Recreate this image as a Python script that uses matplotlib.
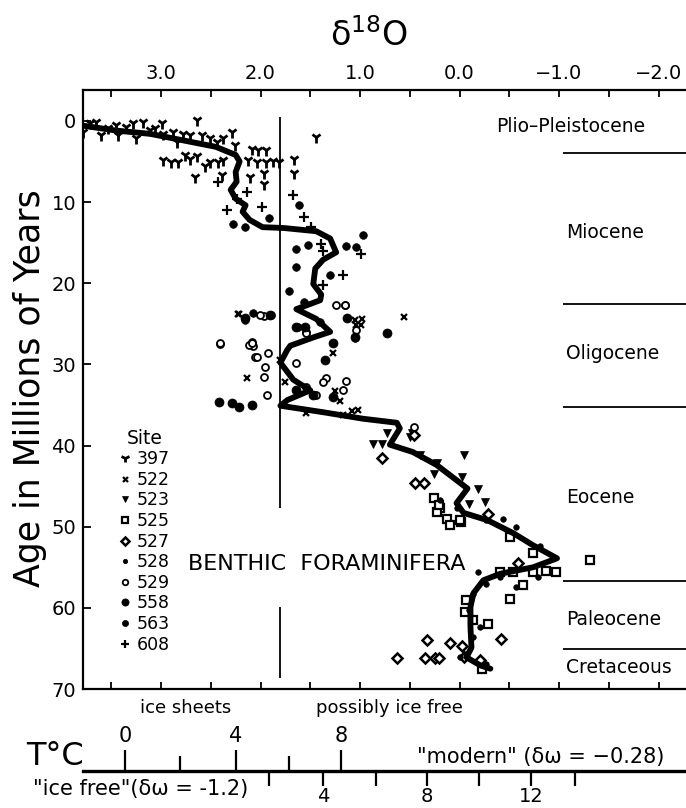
import numpy as np
import matplotlib
matplotlib.use("Agg")
import matplotlib.pyplot as plt

# smoothed benthic curve: (age Myr, d18O)
curve_age = [0.6, 1.2, 1.6, 2.4, 3.2, 4.2, 5.0, 6.3, 7.5, 8.5, 9.6, 10.4, 11.2, 12.2, 13.1,
             13.2, 13.6, 14.5, 16.2, 17.1, 18.2, 20.1, 21.4, 22.1, 23.2, 24.4, 26.0, 26.6,
             27.7, 28.2, 29.8, 31.9, 33.2, 34.4, 35.1, 35.9, 36.7, 37.2, 37.9, 39.9, 40.8,
             42.4, 43.9, 45.3, 47.1, 48.3, 49.2, 50.8, 52.3, 53.9, 55.0, 55.8, 56.6, 58.2,
             59.9, 62.4, 64.9, 66.1, 67.1, 67.5]
curve_d18o = [3.78, 3.45, 3.11, 2.78, 2.45, 2.25, 2.21, 2.25, 2.24, 2.30, 2.25, 2.15, 2.18, 2.11, 1.98,
              1.77, 1.44, 1.30, 1.24, 1.37, 1.45, 1.47, 1.39, 1.40, 1.64, 1.44, 1.30, 1.45,
              1.70, 1.73, 1.80, 1.67, 1.50, 1.73, 1.80, 1.37, 0.97, 0.63, 0.60, 0.70, 0.47,
              0.23, 0.07, -0.08, 0.03, -0.04, -0.28, -0.54, -0.74, -0.98, -0.74, -0.41, -0.24, -0.14,
              -0.11, -0.11, -0.12, -0.07, -0.21, -0.31]

# site samples: columns d18O, age
site397 = np.array([
    [3.78, 1.35], [3.71, 0.32], [3.65, 0.12], [3.60, 1.76], [3.53, 0.94], [3.45, 0.53],
    [3.43, 1.76], [3.35, 0.74], [3.28, 0.32], [3.25, 2.17], [3.18, 0.12], [3.11, 1.15],
    [3.06, 0.94], [2.99, 0.32], [2.98, 1.56], [2.88, 1.35], [2.84, 2.58], [2.78, 1.56],
    [2.71, 1.76], [2.64, -0.09], [2.59, 1.76], [2.51, 2.17], [2.44, 2.58], [2.38, 2.17],
    [2.29, 1.35], [2.26, 2.99], [2.09, 3.49], [2.03, 3.61], [1.94, 3.61], [1.44, 1.97],
    [2.98, 4.85], [2.90, 5.05], [2.83, 5.13], [2.76, 4.23], [2.71, 4.64], [2.64, 4.31],
    [2.56, 5.54], [2.51, 5.05], [2.43, 5.05], [2.38, 4.85], [2.13, 4.85], [2.04, 5.05],
    [1.94, 5.05], [1.87, 4.97], [1.81, 5.05], [1.66, 4.64], [1.66, 6.37], [1.96, 6.37],
    [1.96, 7.72], [2.11, 6.90], [2.66, 6.90], [2.39, 6.70]])
site522 = np.array([
    [2.22, 23.80], [0.56, 24.12], [1.05, 24.54], [1.04, 25.15], [1.27, 28.65], [1.25, 33.25],
    [1.20, 34.48], [1.02, 35.63], [1.08, 35.76], [1.17, 36.25], [1.54, 36.04], [1.75, 32.14],
    [2.14, 31.65], [1.80, 29.47], [2.23, 23.75], [0.98, 24.37], [0.99, 25.11]])
site523 = np.array([
    [0.73, 38.51], [0.48, 38.51], [0.87, 39.83], [0.78, 39.83], [0.40, 41.19], [0.23, 42.21],
    [0.26, 43.45], [-0.04, 41.19], [-0.02, 43.86], [-0.19, 45.30], [-0.26, 46.94], [-0.10, 47.15],
    [0.50, 38.90]])
site525 = np.array([
    [0.26, 46.41], [0.20, 47.64], [0.13, 49.00], [0.10, 49.82], [-0.01, 49.41], [0.23, 48.17],
    [-0.51, 51.26], [-0.74, 53.23], [-1.31, 54.13], [-0.41, 55.57], [-0.54, 55.57], [-0.74, 55.57],
    [-0.87, 55.45], [-0.97, 55.57], [-0.64, 57.22], [-0.51, 58.86], [-0.06, 60.50], [-0.29, 61.94],
    [-0.23, 67.49], [-0.14, 61.53], [-0.07, 59.07], [0.21, 47.35], [0.00, 49.20]])
site527 = np.array([
    [0.78, 41.60], [0.46, 38.70], [0.45, 44.60], [0.36, 44.60], [-0.29, 48.46], [-0.59, 54.46],
    [0.33, 63.92], [0.10, 64.33], [-0.02, 64.74], [0.63, 66.13], [0.35, 66.13], [0.25, 66.13],
    [0.21, 66.13], [-0.42, 63.79], [-0.04, 66.05], [-0.21, 66.46]])
site528 = np.array([
    [0.20, 46.73], [0.03, 47.76], [-0.27, 49.20], [-0.44, 49.00], [-0.57, 50.02], [-0.81, 52.40],
    [-0.79, 56.19], [-0.57, 57.42], [-0.27, 57.01], [-0.14, 58.24], [-0.10, 60.30], [-0.21, 62.35],
    [-0.14, 63.58], [-0.07, 65.64], [-0.27, 66.87], [0.00, 66.05], [-0.19, 55.57], [-0.41, 56.19]])
site529 = np.array([
    [2.41, 27.45], [2.09, 27.25], [2.08, 27.74], [1.24, 22.72], [1.15, 22.72], [1.04, 25.80],
    [1.97, 24.04], [1.89, 23.88], [1.54, 26.00], [2.41, 27.41], [2.12, 27.62], [2.09, 27.41],
    [2.06, 29.06], [1.95, 30.29], [1.97, 31.52], [1.92, 28.65], [1.93, 33.78], [1.64, 29.88],
    [1.54, 26.18], [1.34, 31.73], [1.37, 32.14], [1.14, 32.02], [1.17, 33.17], [0.46, 37.69],
    [1.54, 32.76], [1.44, 33.78], [2.01, 23.92], [1.15, 22.69], [2.04, 29.06]])
site558 = np.array([
    [2.42, 34.60], [2.29, 34.81], [2.22, 35.30], [2.09, 35.00], [2.16, 24.33], [1.64, 25.36],
    [1.55, 25.36], [1.35, 29.47], [1.27, 33.99], [1.05, 26.59], [0.73, 26.18], [1.13, 24.33],
    [1.90, 23.92], [1.27, 27.41], [1.47, 33.78], [1.64, 33.17]])
site563 = np.array([
    [1.61, 10.31], [1.91, 11.96], [2.28, 12.74], [2.16, 13.07], [1.64, 15.74], [1.52, 15.25],
    [1.64, 17.99], [1.30, 19.03], [1.14, 15.41], [1.04, 15.53], [0.97, 14.01], [1.71, 21.00],
    [1.56, 22.31], [2.16, 24.49], [2.08, 23.63], [1.62, 25.40], [1.05, 26.75], [1.40, 24.78]])
site608 = np.array([
    [2.43, 7.52], [2.34, 11.01], [2.14, 8.75], [1.99, 10.60], [1.67, 9.16], [1.56, 11.83],
    [1.49, 13.07], [1.39, 15.12], [1.37, 16.07], [1.17, 19.03], [0.99, 16.35], [1.37, 20.26],
    [2.24, 9.57]])

sites = ["397", "522", "523", "525", "527", "528", "529", "558", "563", "608"]
site_data = [site397, site522, site523, site525, site527, site528, site529, site558, site563, site608]
site_style = [
    dict(marker="1", ms=8, mew=2.0, mfc="k"),
    dict(marker="x", ms=4.5, mew=1.6, mfc="k"),
    dict(marker="v", ms=5.5, mew=0.5, mfc="k"),
    dict(marker="s", ms=6, mew=1.6, mfc="white"),
    dict(marker="D", ms=5, mew=1.8, mfc="white"),
    dict(marker="o", ms=4, mew=0.5, mfc="k"),
    dict(marker="o", ms=5, mew=1.3, mfc="white"),
    dict(marker="o", ms=6.5, mew=0.5, mfc="k"),
    dict(marker="o", ms=5.5, mew=0.5, mfc="k"),
    dict(marker="+", ms=7, mew=1.6, mfc="k"),
]

epoch_names = ["Plio\u2013Pleistocene", "Miocene", "Oligocene", "Eocene", "Paleocene", "Cretaceous"]
epoch_label_age = [0.7, 13.7, 28.7, 46.4, 61.4, 67.3]
epoch_label_d18o = [-0.37, -1.07, -1.07, -1.07, -1.07, -1.07]
epoch_bounds = [4.0, 22.6, 35.3, 56.7, 65.1]

# temperature scales (tick positions in d18O units)
t_modern = [0, 2, 4, 6, 8]
t_modern_pos = [3.36, 2.81, 2.25, 1.71, 1.19]
t_icefree = [2, 4, 6, 8, 10, 12, 14]
t_icefree_pos = [1.91, 1.37, 0.84, 0.33, -0.20, -0.72, -1.16]

fig = plt.figure(figsize=(6.86, 8.08), dpi=100)
W, H = 686.0, 808.0
ax = fig.add_axes([83 / W, 1 - 689 / H, 603 / W, 599 / H])
ax.set_xlim(3.784, -2.276)
ax.set_ylim(70, -3.8)

for name, arr, st in zip(sites, site_data, site_style):
    ax.plot(arr[:, 0], arr[:, 1], ls="none", color="k", mec="k", label=name, zorder=3, **st)

ax.plot(curve_d18o, curve_age, color="k", lw=4.2, solid_capstyle="round",
        solid_joinstyle="round", zorder=4)

ax.vlines(1.80, -0.5, 47.7, color="k", lw=1.3)
ax.vlines(1.80, 59.9, 68.7, color="k", lw=1.3)

ax.hlines(epoch_bounds, -1.04, -2.276, color="k", lw=1.3)
for nm, a, d in zip(epoch_names, epoch_label_age, epoch_label_d18o):
    ax.text(d, a, nm, fontsize=13.5, ha="left", va="center")

ax.text(2.73, 54.6, "BENTHIC  FORAMINIFERA", fontsize=16, ha="left", va="center")

# axes styling
for s in ["left", "top", "bottom"]:
    ax.spines[s].set_linewidth(1.6)
ax.spines["right"].set_visible(False)
ax.xaxis.tick_top()
ax.set_xticks([3, 2, 1, 0, -1, -2])
ax.set_xticklabels(["3.0", "2.0", "1.0", "0.0", "\u22121.0", "\u22122.0"])
ax.set_xticks([3.5, 2.5, 1.5, 0.5, -0.5, -1.5], minor=True)
ax.tick_params(axis="x", which="both", direction="in", length=5, width=1.3,
               top=True, bottom=True, labeltop=True, labelbottom=False, labelsize=14, pad=5)
ax.set_yticks(range(0, 71, 10))
ax.tick_params(axis="y", direction="in", length=6, width=1.3, labelsize=14, pad=5, right=False)

leg = ax.legend(title="Site", loc="upper left", bbox_to_anchor=(0.04, 0.455), frameon=False,
                fontsize=12.5, title_fontsize=13.5, handlelength=0.7, handletextpad=0.3,
                labelspacing=0.15, borderpad=0.2, markerscale=0.8)

fig.text(369 / W, 1 - 36 / H, "\u03b4$^{\\mathregular{18}}$O", fontsize=24, ha="center", va="center")
fig.text(30 / W, 1 - 388 / H, "Age in Millions of Years", fontsize=25, rotation=90,
         ha="center", va="center")
fig.text(186 / W, 1 - 708 / H, "ice sheets", fontsize=13, ha="center", va="center")
fig.text(389 / W, 1 - 708 / H, "possibly ice free", fontsize=13, ha="center", va="center")

# temperature scale axes
ty = 1 - 771 / H
tax_up = fig.add_axes([83 / W, ty, 603 / W, 1e-4])
tax_lo = fig.add_axes([83 / W, ty, 603 / W, 1e-4])
for t in (tax_up, tax_lo):
    t.set_xlim(3.784, -2.276)
    t.set_yticks([])
    t.patch.set_visible(False)
    for s in t.spines.values():
        s.set_visible(False)
tax_lo.spines["bottom"].set_visible(True)
tax_lo.spines["bottom"].set_linewidth(2.4)

tax_up.xaxis.tick_top()
tax_up.set_xticks([p for t, p in zip(t_modern, t_modern_pos) if t % 4 == 0])
tax_up.set_xticklabels([str(t) for t in t_modern if t % 4 == 0])
tax_up.set_xticks([p for t, p in zip(t_modern, t_modern_pos) if t % 4 != 0], minor=True)
tax_up.tick_params(axis="x", which="major", direction="out", length=15, width=1.6,
                   labelsize=15, pad=3, top=True, bottom=False, labeltop=True, labelbottom=False)
tax_up.tick_params(axis="x", which="minor", direction="out", length=11, width=1.6,
                   top=True, bottom=False)

tax_lo.set_xticks([p for t, p in zip(t_icefree, t_icefree_pos) if t % 4 == 0])
tax_lo.set_xticklabels([str(t) for t in t_icefree if t % 4 == 0])
tax_lo.set_xticks([p for t, p in zip(t_icefree, t_icefree_pos) if t % 4 != 0], minor=True)
tax_lo.tick_params(axis="x", which="major", direction="out", length=11, width=1.6,
                   labelsize=14, pad=0.5, top=False, bottom=True)
tax_lo.tick_params(axis="x", which="minor", direction="out", length=11, width=1.6,
                   top=False, bottom=True)

fig.text(55 / W, 1 - 765 / H, "T\u00b0C", fontsize=23, ha="center", va="baseline")
fig.text(417 / W, 1 - 757 / H, "\"modern\" (\u03b4\u03c9 = \u22120.28)", fontsize=15,
         ha="left", va="center")
fig.text(33 / W, 1 - 789 / H, "\"ice free\"(\u03b4\u03c9 = -1.2)", fontsize=15,
         ha="left", va="center")

fig.savefig("out.png", dpi=100)
